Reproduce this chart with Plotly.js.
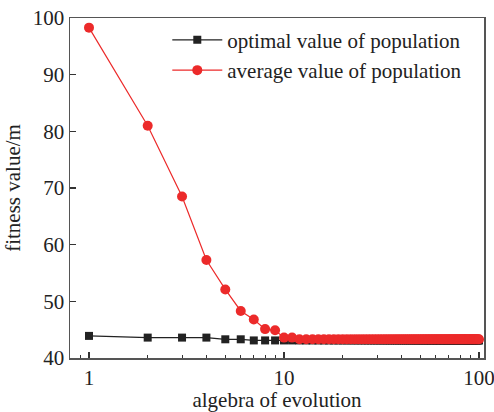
<!DOCTYPE html>
<html>
<head>
<meta charset="utf-8">
<script src="https://cdn.plot.ly/plotly-3.0.1.min.js"></script>
<style>html,body{margin:0;padding:0;background:#fff;}#chart{width:494px;height:412px;}</style>
</head>
<body>
<div id="chart"></div>
<script>
var generations = [1,2,3,4,5,6,7,8,9,10,11,12,13,14,15,16,17,18,19,20,21,22,23,24,25,26,27,28,29,30,31,32,33,34,35,36,37,38,39,40,41,42,43,44,45,46,47,48,49,50,51,52,53,54,55,56,57,58,59,60,61,62,63,64,65,66,67,68,69,70,71,72,73,74,75,76,77,78,79,80,81,82,83,84,85,86,87,88,89,90,91,92,93,94,95,96,97,98,99,100];
var optimalValues = [43.9,43.6,43.6,43.6,43.3,43.3,43.1,43.1,43.1,43.1,43.1,43.1,43.1,43.1,43.1,43.1,43.1,43.1,43.1,43.1,43.1,43.1,43.1,43.1,43.1,43.1,43.1,43.1,43.1,43.1,43.1,43.1,43.1,43.1,43.1,43.1,43.1,43.1,43.1,43.1,43.1,43.1,43.1,43.1,43.1,43.1,43.1,43.1,43.1,43.1,43.1,43.1,43.1,43.1,43.1,43.1,43.1,43.1,43.1,43.1,43.1,43.1,43.1,43.1,43.1,43.1,43.1,43.1,43.1,43.1,43.1,43.1,43.1,43.1,43.1,43.1,43.1,43.1,43.1,43.1,43.1,43.1,43.1,43.1,43.1,43.1,43.1,43.1,43.1,43.1,43.1,43.1,43.1,43.1,43.1,43.1,43.1,43.1,43.1,43.1];
var averageValues = [98.3,81.0,68.5,57.3,52.1,48.3,46.8,45.1,44.9,43.6,43.6,43.3,43.3,43.3,43.3,43.3,43.3,43.3,43.3,43.3,43.3,43.3,43.3,43.3,43.3,43.3,43.3,43.3,43.3,43.3,43.3,43.3,43.3,43.3,43.3,43.3,43.3,43.3,43.3,43.3,43.3,43.3,43.3,43.3,43.3,43.3,43.3,43.3,43.3,43.3,43.3,43.3,43.3,43.3,43.3,43.3,43.3,43.3,43.3,43.3,43.3,43.3,43.3,43.3,43.3,43.3,43.3,43.3,43.3,43.3,43.3,43.3,43.3,43.3,43.3,43.3,43.3,43.3,43.3,43.3,43.3,43.3,43.3,43.3,43.3,43.3,43.3,43.3,43.3,43.3,43.3,43.3,43.3,43.3,43.3,43.3,43.3,43.3,43.3,43.3];
var seriesNames = ['optimal value of population', 'average value of population'];
var xTickVals = [1, 10, 100];
var xTickText = ['1', '10', '100'];
var xMinorVals = [0.8,0.9,2,3,4,5,6,7,8,9,20,30,40,50,60,70,80,90];
var yTickVals = [40, 50, 60, 70, 80, 90, 100];

var font = 'Liberation Serif';
var traces = [
  {x: generations, y: optimalValues, name: seriesNames[0], type: 'scatter', mode: 'lines+markers',
   line: {color: '#222222', width: 1.2}, marker: {symbol: 'square', size: 8, color: '#222222'}},
  {x: generations, y: averageValues, name: seriesNames[1], type: 'scatter', mode: 'lines+markers',
   line: {color: '#ec2a2a', width: 1.2}, marker: {symbol: 'circle', size: 10, color: '#ec2a2a'}}
];
var axisCommon = {showline: true, linecolor: '#555555', linewidth: 1.5, mirror: true, showgrid: false, zeroline: false,
  ticks: 'inside', ticklen: 6, tickwidth: 1.2, tickcolor: '#333333', tickfont: {family: font, size: 21, color: '#222222'},
  ticklabeloverflow: 'allow'};
var layout = {
  width: 494, height: 412,
  margin: {l: 70, r: 10, t: 18, b: 54},
  paper_bgcolor: '#ffffff', plot_bgcolor: '#ffffff',
  font: {family: font},
  showlegend: true,
  legend: {x: 0.235, y: 0.995, xanchor: 'left', yanchor: 'top', bgcolor: 'rgba(0,0,0,0)',
    font: {family: font, size: 21, color: '#222222'}, tracegroupgap: 0, itemwidth: 50},
  xaxis: Object.assign({}, axisCommon, {type: 'log', range: [-0.0974, 2.0256], tickmode: 'array', tickvals: xTickVals, ticktext: xTickText,
    minor: {tickmode: 'array', tickvals: xMinorVals, ticks: 'inside', ticklen: 3, tickwidth: 1, tickcolor: '#333333', showgrid: false},
    title: {text: 'algebra of evolution', font: {family: font, size: 21, color: '#222222'}, standoff: 1}}),
  yaxis: Object.assign({}, axisCommon, {range: [40, 100], tickmode: 'array', tickvals: yTickVals,
    title: {text: 'fitness value/m', font: {family: font, size: 21, color: '#222222'}, standoff: 6}})
};
Plotly.newPlot('chart', traces, layout, {displayModeBar: false, staticPlot: true});
</script>
</body>
</html>
